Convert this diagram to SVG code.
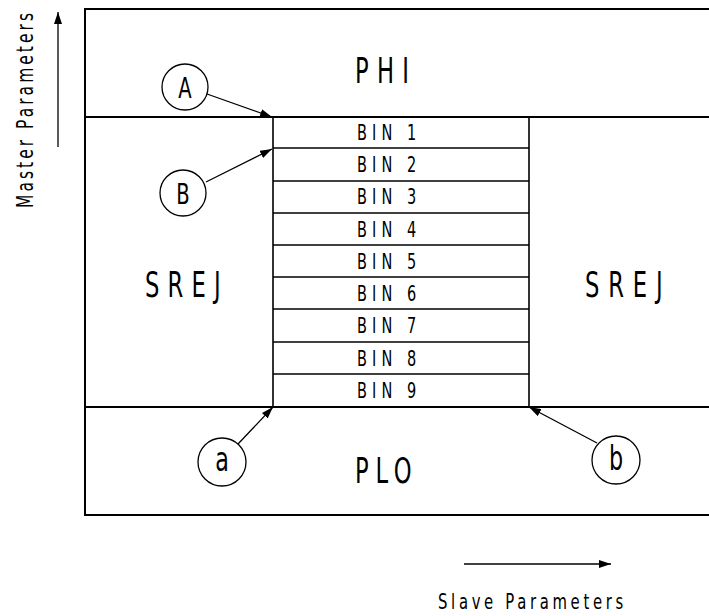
<svg xmlns="http://www.w3.org/2000/svg" width="709" height="616" viewBox="0 0 709 616">
<style>
.ln{stroke:#000;stroke-width:2;fill:none}
.bl{stroke:#000;stroke-width:1.6;fill:none}
.t{font-family:"DejaVu Sans Condensed","DejaVu Sans",sans-serif;fill:#000}
.big{font-size:36px}
.bin{font-size:21.5px}
.cl{font-size:29px}
.cs{font-size:33px}
.lbl{font-size:23px}
.cir{stroke:#000;stroke-width:1.3;fill:#fff}
.ar{stroke:#000;stroke-width:1.3;fill:none;marker-end:url(#ah)}
</style>
<defs>
<marker id="ah" viewBox="0 0 12 8" refX="12" refY="4" markerWidth="12" markerHeight="8" markerUnits="userSpaceOnUse" orient="auto">
<path d="M0,0 L12,4 L0,8 z" fill="#000"/>
</marker>
</defs>
<g id="frame">
<rect class="ln" x="85" y="9" width="640" height="506"/>
<line class="ln" x1="85" y1="117" x2="709" y2="117"/>
<line class="ln" x1="85" y1="407" x2="709" y2="407"/>
</g>
<g id="PHI"><text class="t big" transform="translate(355,83) scale(0.7,1)" textLength="77" lengthAdjust="spacing">PHI</text></g>
<g id="PLO"><text class="t big" transform="translate(355,483) scale(0.7,1)" textLength="81" lengthAdjust="spacing">PLO</text></g>
<g id="SREJ-left"><text class="t big" transform="translate(145,297) scale(0.7,1)" textLength="108" lengthAdjust="spacing">SREJ</text></g>
<g id="SREJ-right"><text class="t big" transform="translate(585,297) scale(0.7,1)" textLength="111" lengthAdjust="spacing">SREJ</text></g>
<g id="bins">
<rect class="bl" x="273" y="117" width="256" height="290"/>
<line class="bl" x1="273" y1="148" x2="529" y2="148"/>
<line class="bl" x1="273" y1="181" x2="529" y2="181"/>
<line class="bl" x1="273" y1="213" x2="529" y2="213"/>
<line class="bl" x1="273" y1="245" x2="529" y2="245"/>
<line class="bl" x1="273" y1="277" x2="529" y2="277"/>
<line class="bl" x1="273" y1="309" x2="529" y2="309"/>
<line class="bl" x1="273" y1="342" x2="529" y2="342"/>
<line class="bl" x1="273" y1="374" x2="529" y2="374"/>
<g id="bin1"><text class="t bin" transform="translate(357,140) scale(0.75,1)" textLength="79" lengthAdjust="spacing">BIN 1</text></g>
<g id="bin2"><text class="t bin" transform="translate(357,172) scale(0.75,1)" textLength="79" lengthAdjust="spacing">BIN 2</text></g>
<g id="bin3"><text class="t bin" transform="translate(357,204) scale(0.75,1)" textLength="79" lengthAdjust="spacing">BIN 3</text></g>
<g id="bin4"><text class="t bin" transform="translate(357,237) scale(0.75,1)" textLength="79" lengthAdjust="spacing">BIN 4</text></g>
<g id="bin5"><text class="t bin" transform="translate(357,269) scale(0.75,1)" textLength="79" lengthAdjust="spacing">BIN 5</text></g>
<g id="bin6"><text class="t bin" transform="translate(357,301) scale(0.75,1)" textLength="79" lengthAdjust="spacing">BIN 6</text></g>
<g id="bin7"><text class="t bin" transform="translate(357,333) scale(0.75,1)" textLength="79" lengthAdjust="spacing">BIN 7</text></g>
<g id="bin8"><text class="t bin" transform="translate(357,366) scale(0.75,1)" textLength="79" lengthAdjust="spacing">BIN 8</text></g>
<g id="bin9"><text class="t bin" transform="translate(357,398) scale(0.75,1)" textLength="79" lengthAdjust="spacing">BIN 9</text></g>
</g>
<g id="connectors">
<line class="ar" x1="207" y1="94" x2="272" y2="117"/>
<line class="ar" x1="206" y1="182" x2="272" y2="149"/>
<line class="ar" x1="238" y1="444" x2="273" y2="407"/>
<line class="ar" x1="597" y1="443" x2="529" y2="407"/>
<line class="ar" x1="58" y1="147" x2="58" y2="12"/>
<line class="ar" x1="464" y1="564" x2="611" y2="564"/>
</g>
<g id="A"><circle class="cir" cx="185" cy="87" r="23"/><text class="t cl" transform="translate(185,97.5) scale(0.75,1)" text-anchor="middle">A</text></g>
<g id="B"><circle class="cir" cx="183" cy="193" r="23"/><text class="t cl" transform="translate(183,203.5) scale(0.75,1)" text-anchor="middle">B</text></g>
<g id="a"><circle class="cir" cx="222" cy="462" r="24"/><text class="t cs" transform="translate(222,471) scale(0.75,1)" text-anchor="middle">a</text></g>
<g id="b"><circle class="cir" cx="616" cy="460" r="24"/><text class="t cs" transform="translate(616,470) scale(0.75,1)" text-anchor="middle">b</text></g>
<g id="master"><text class="t lbl" transform="translate(33,208) rotate(-90) scale(0.75,1)" textLength="260" lengthAdjust="spacing">Master Parameters</text></g>
<g id="slave"><text class="t" font-size="22" transform="translate(438,609) scale(0.75,1)" textLength="247" lengthAdjust="spacing">Slave Parameters</text></g>
</svg>
